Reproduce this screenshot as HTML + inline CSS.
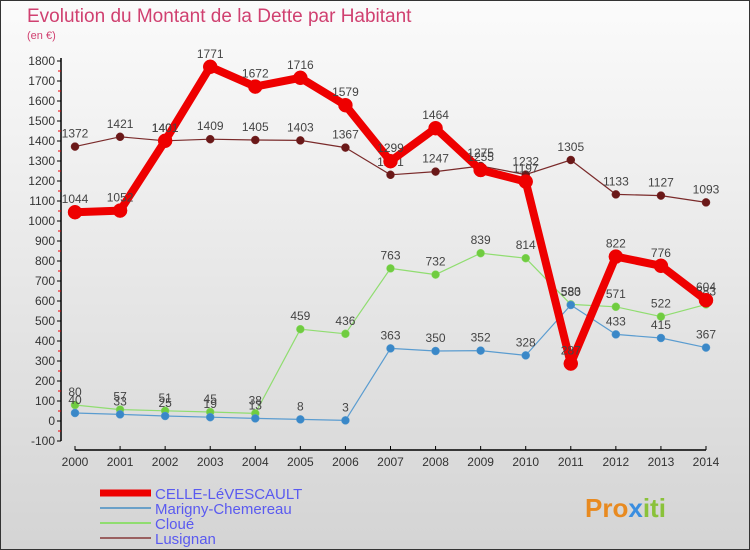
<!DOCTYPE html>
<html><head><meta charset="utf-8"><style>
body{margin:0;width:750px;height:550px;overflow:hidden}
svg{display:block;font-family:"Liberation Sans",sans-serif}
</style></head><body>
<svg id="chart" width="750" height="550" viewBox="0 0 750 550">
<defs><linearGradient id="bg" x1="0" y1="0" x2="0" y2="1"><stop offset="0" stop-color="#fbfbfb"/><stop offset="1" stop-color="#d4d4d4"/></linearGradient></defs>
<rect x="0.5" y="0.5" width="749" height="549" fill="url(#bg)" stroke="#333"/>
<text x="27" y="22" font-size="19" fill="#d04070">Evolution du Montant de la Dette par Habitant</text>
<text x="27" y="39" font-size="11" fill="#d04070">(en €)</text>
<g id="axes"></g><g id="series"></g><g id="legend"></g>
<text x="585" y="517" font-size="26" font-weight="bold" fill="#e88a20">Pro<tspan fill="#3a8ee0">x</tspan><tspan fill="#8ac23a">iti</tspan></text>
</svg>
<script>
const years=[2000,2001,2002,2003,2004,2005,2006,2007,2008,2009,2010,2011,2012,2013,2014];
const yTicks=[-100,0,100,200,300,400,500,600,700,800,900,1000,1100,1200,1300,1400,1500,1600,1700,1800];
const celle=[1044,1052,1401,1771,1672,1716,1579,1299,1464,1255,1197,287,822,776,604];
const marigny=[40,33,25,19,13,8,3,363,350,352,328,580,433,415,367];
const cloue=[80,57,51,45,38,459,436,763,732,839,814,583,571,522,583];
const lusignan=[1372,1421,1401,1409,1405,1403,1367,1231,1247,1275,1232,1305,1133,1127,1093];
const NS="http://www.w3.org/2000/svg";
const X=i=>75+i*(706-75)/(years.length-1);
const Y=v=>421-v*0.2;
function mk(t,a,p){const e=document.createElementNS(NS,t);for(const k in a)e.setAttribute(k,a[k]);p.appendChild(e);return e;}
const ax=document.getElementById('axes');
const yl=mk('line',{x1:61,x2:61,y1:Y(1800)-3,y2:Y(-100),stroke:'#000','stroke-width':1.5},ax);


yTicks.forEach(v=>{
  mk('line',{x1:57,x2:61,y1:Y(v),y2:Y(v),stroke:'#000'},ax);
  if(v<1800) mk('line',{x1:58,x2:61,y1:Y(v+50),y2:Y(v+50),stroke:'#e00'},ax);
  const t=mk('text',{x:55,y:Y(v)+4,'text-anchor':'end','font-size':12,fill:'#333'},ax);
  
  
  t.textContent=v;
});
const xl=mk('line',{x1:75,x2:706,y1:450,y2:450,stroke:'#000','stroke-width':1.5},ax);


years.forEach((y,i)=>{
  mk('line',{x1:X(i),x2:X(i),y1:446,y2:450,stroke:'#000'},ax);
  const t=mk('text',{x:X(i),y:466,'text-anchor':'middle','font-size':12,fill:'#333'},ax);
  
  
  t.textContent=y;
});
const sg=document.getElementById('series');
function series(data,name,col,dot,w,r){
  const g=mk('g',{},sg);
  
  
  mk('polyline',{points:data.map((v,i)=>X(i)+','+Y(v)).join(' '),fill:'none',stroke:col,'stroke-width':w,'stroke-linejoin':'round'},g);
  data.forEach((v,i)=>{
    const c=mk('circle',{cx:X(i),cy:Y(v),r:r,fill:dot,stroke:col,'stroke-width':0.5},g);
    
    
    const t=mk('text',{x:X(i),y:Y(v)-9,'text-anchor':'middle','font-size':12,fill:'#444'},g);
    
    
    t.textContent=v;
  });
}
series(lusignan,'lusignan','#7a2a2a','#6a1818',1.2,4);
series(cloue,'cloue','#90dd70','#70cc40',1.2,4);
series(marigny,'marigny','#5a9cd0','#3a88c8',1.2,4);
series(celle,'celle-levescault','#ee0000','#ee0000',8,7);
const lg=document.getElementById('legend');
[['CELLE-LéVESCAULT','#ee0000',7],['Marigny-Chemereau','#6aa0c8',2],['Cloué','#90dd70',2],['Lusignan','#9a6060',2]].forEach((d,i)=>{
  const y=493+i*15;
  const g=mk('g',{},lg);
  
  
  mk('line',{x1:100,x2:151,y1:y,y2:y,stroke:d[1],'stroke-width':d[2]},g);
  const t=mk('text',{x:155,y:y+6,'font-size':15,fill:'#5a5af0'},g);
  t.textContent=d[0];
});
</script>
</body></html>
